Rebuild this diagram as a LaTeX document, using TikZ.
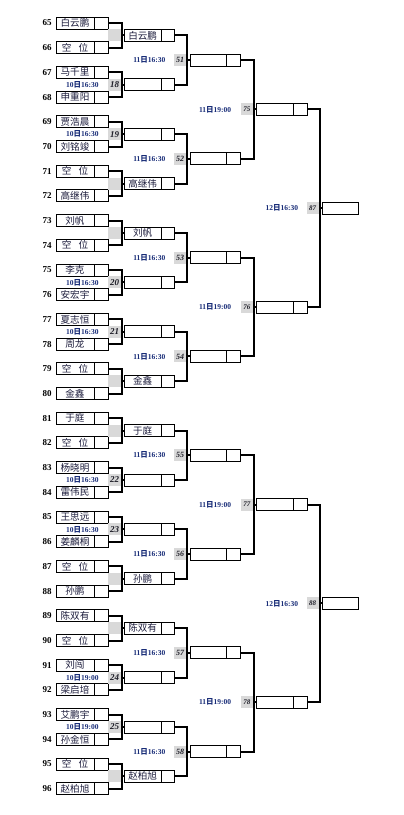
\documentclass[tikz,border=0pt]{standalone}
\usepackage{fontspec}
\setmainfont{Liberation Serif}
\newfontfamily\cjk{Noto Sans CJK SC}
\usetikzlibrary{calc}
\definecolor{namec}{RGB}{28,28,60}
\definecolor{datec}{RGB}{25,45,120}
\definecolor{greyc}{RGB}{217,217,217}
\definecolor{numc}{RGB}{30,30,40}
\newcommand\mydate[2]{#1{\cjk 日}#2}
\newcommand\kongwei{空\hspace{0.75em}位}
\tikzset{
  mainbox/.style={draw, line width=0.9pt, minimum height=12pt, inner sep=0pt, outer sep=0pt, anchor=west,
    font=\cjk\fontsize{9.6}{9.6}\selectfont, text=namec},
  sidebox/.style={draw, line width=0.9pt, minimum height=12pt, minimum width=13.6pt, inner sep=0pt, outer sep=0pt, anchor=west},
  br/.style={line width=2pt},
  greyb/.style={fill=greyc, minimum width=12.2pt, minimum height=12pt, inner sep=0pt, outer sep=0pt, anchor=east, text=numc},
  seednum/.style={font=\bfseries\fontsize{9}{9}\selectfont},
  datelab/.style={font=\bfseries\fontsize{7.5}{7.5}\selectfont, text=datec, inner sep=0pt},
  mnA/.style={font=\bfseries\itshape\fontsize{9}{9}\selectfont},
  mnB/.style={font=\bfseries\itshape\fontsize{8}{8}\selectfont},
  mnC/.style={font=\bfseries\itshape\fontsize{7}{7}\selectfont}
}
\begin{document}
\begin{tikzpicture}[x=1pt,y=-1pt]
\useasboundingbox (0,0) rectangle (404,815);
% ---- round 1 boxes
\foreach \n [count=\i from 0] in {白云鹏,\kongwei,马千里,申重阳,贾浩晨,刘铭竣,\kongwei,高继伟,刘帆,\kongwei,李克,安宏宇,夏志恒,周龙,\kongwei,金鑫,于庭,\kongwei,杨晓明,雷伟民,王思远,姜麟桐,\kongwei,孙鹏,陈双有,\kongwei,刘闯,梁启培,艾鹏宇,孙金恒,\kongwei,赵柏旭}{
  \pgfmathtruncatemacro\s{65+\i}
  \node[mainbox, minimum width=38pt] (aP\i) at (56,{23+24.7*\i}) {\n};
  \node[sidebox, minimum width=14.5pt] (aQ\i) at (aP\i.east) {};
  \node[seednum] (sd\i) at (47,{23+24.7*\i}) {\s};
}
% ---- round 2 boxes
\foreach \n [count=\j from 0] in {白云鹏,{},{},高继伟,刘帆,{},{},金鑫,于庭,{},{},孙鹏,陈双有,{},{},赵柏旭}{
  \node[mainbox, minimum width=36.7pt] (bP\j) at (124.3,{23+24.7*(2*\j+0.5)}) {\n};
  \node[sidebox] (bQ\j) at (bP\j.east) {};
}
% ---- round 3 boxes
\foreach \k in {0,...,7}{
  \node[mainbox, minimum width=36.7pt] (cP\k) at (190,{23+24.7*(4*\k+1.5)}) {};
  \node[sidebox] (cQ\k) at (cP\k.east) {};
}
% ---- round 4 boxes
\foreach \l in {0,...,3}{
  \node[mainbox, minimum width=36.7pt] (dP\l) at (256.7,{23+24.7*(8*\l+3.5)}) {};
  \node[sidebox] (dQ\l) at (dP\l.east) {};
}
% ---- final boxes
\foreach \m in {0,1}{
  \node[mainbox, minimum width=36pt] (fP\m) at (322.5,{23+24.7*(16*\m+7.5)}) {};
}
% ---- grey labels round 1
\foreach \j in {0,3,4,7,8,11,12,15}{
  \node[greyb] (gA\j) at ([xshift=-3.7pt]bP\j.west) {};
}
\foreach \j/\mm/\d/\t in {1/18/10/16:30,2/19/10/16:30,5/20/10/16:30,6/21/10/16:30,9/22/10/16:30,10/23/10/16:30,13/24/10/19:00,14/25/10/19:00}{
  \node[greyb, mnA] (gA\j) at ([xshift=-3.7pt]bP\j.west) {\mm};
  \node[datelab] (dA\j) at (82.3,{23+24.7*(2*\j+0.5)}) {\mydate{\d}{\t}};
}
% ---- grey labels round 2
\foreach \k in {0,...,7}{
  \pgfmathtruncatemacro\mm{51+\k}
  \node[greyb, mnB] (gB\k) at ([xshift=-3.7pt]cP\k.west) {\mm};
  \node[datelab] (dB\k) at (149.4,{23+24.7*(4*\k+1.5)}) {\mydate{11}{16:30}};
}
% ---- grey labels round 3
\foreach \l in {0,...,3}{
  \pgfmathtruncatemacro\mm{75+\l}
  \node[greyb, mnC] (gC\l) at ([xshift=-3.7pt]dP\l.west) {\mm};
  \node[datelab] (dC\l) at (215.1,{23+24.7*(8*\l+3.5)}) {\mydate{11}{19:00}};
}
% ---- grey labels final
\foreach \m in {0,1}{
  \pgfmathtruncatemacro\mm{87+\m}
  \node[greyb, mnC] (gD\m) at ([xshift=-3.7pt]fP\m.west) {\mm};
  \node[datelab] (dD\m) at (281.8,{23+24.7*(16*\m+7.5)}) {\mydate{12}{16:30}};
}
% ---- brackets round 1 -> 2
\foreach \j in {0,...,15}{
  \pgfmathtruncatemacro\a{2*\j}
  \pgfmathtruncatemacro\b{2*\j+1}
  \draw[br] (aQ\a.east) -| ([xshift=-2.7pt]bP\j.west) |- (aQ\b.east);
  \draw[br] ([xshift=-2.7pt]bP\j.west) -- (bP\j.west);
}
% ---- brackets round 2 -> 3
\foreach \k in {0,...,7}{
  \pgfmathtruncatemacro\a{2*\k}
  \pgfmathtruncatemacro\b{2*\k+1}
  \draw[br] (bQ\a.east) -| ([xshift=-2.7pt]cP\k.west) |- (bQ\b.east);
  \draw[br] ([xshift=-2.7pt]cP\k.west) -- (cP\k.west);
}
% ---- brackets round 3 -> 4
\foreach \l in {0,...,3}{
  \pgfmathtruncatemacro\a{2*\l}
  \pgfmathtruncatemacro\b{2*\l+1}
  \draw[br] (cQ\a.east) -| ([xshift=-2.7pt]dP\l.west) |- (cQ\b.east);
  \draw[br] ([xshift=-2.7pt]dP\l.west) -- (dP\l.west);
}
% ---- brackets round 4 -> final
\foreach \m in {0,1}{
  \pgfmathtruncatemacro\a{2*\m}
  \pgfmathtruncatemacro\b{2*\m+1}
  \draw[br] (dQ\a.east) -| ([xshift=-2.7pt]fP\m.west) |- (dQ\b.east);
  \draw[br] ([xshift=-2.7pt]fP\m.west) -- (fP\m.west);
}
\end{tikzpicture}
\end{document}
